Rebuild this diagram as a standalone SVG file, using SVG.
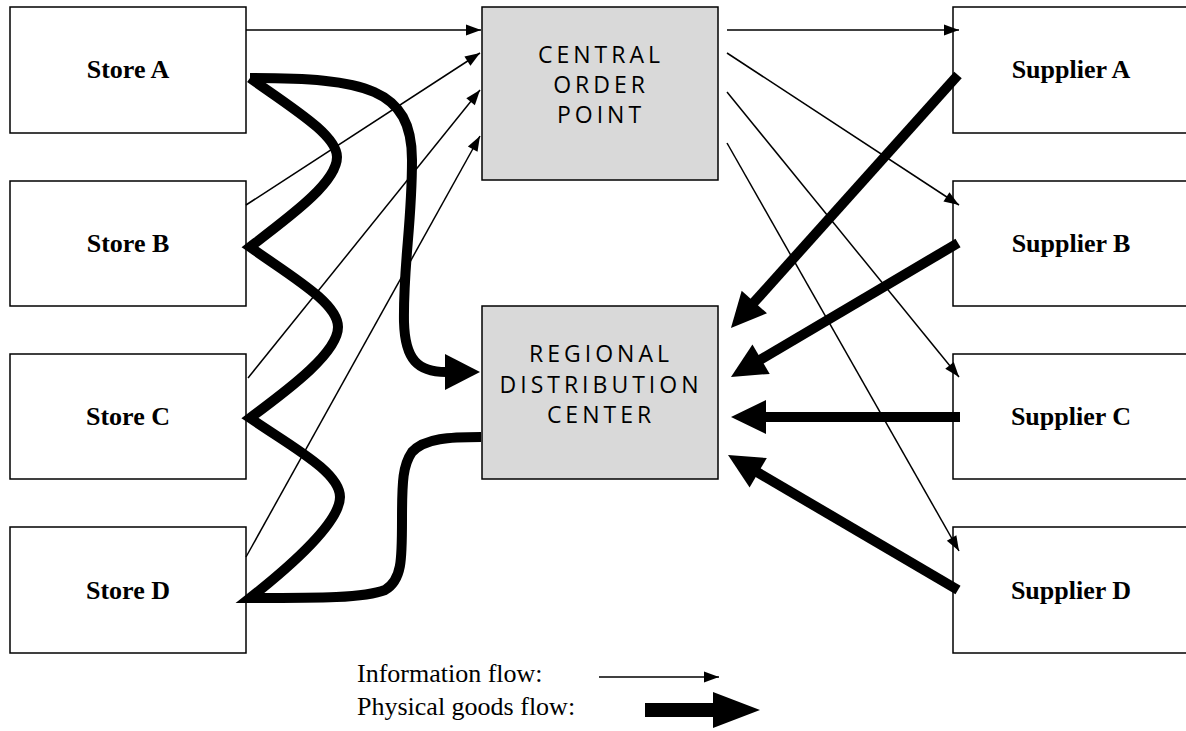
<svg xmlns="http://www.w3.org/2000/svg" width="1186" height="731" viewBox="0 0 1186 731">
<style>
.box{fill:#fff;stroke:#000;stroke-width:1.5}
.hub{fill:#d9d9d9;stroke:#000;stroke-width:1.5}
.lbl{font-family:"Liberation Serif","Times New Roman",serif;font-weight:bold;font-size:26px;text-anchor:middle;fill:#000}
.hubt{font-family:"Open Sans","Noto Sans",sans-serif;font-size:23px;letter-spacing:4px;text-anchor:middle;fill:#000}
.info{stroke:#000;stroke-width:1.5;fill:none;marker-end:url(#thin)}
.goods{stroke:#000;stroke-width:10;fill:none;marker-end:url(#thick)}
.curve{stroke:#000;stroke-width:10;fill:none;stroke-linejoin:miter}
.leg{font-family:"Liberation Serif","Times New Roman",serif;font-size:26px;fill:#000}
</style>
<defs>
<marker id="thin" markerUnits="userSpaceOnUse" markerWidth="16" markerHeight="12" refX="15" refY="5.5" orient="auto" overflow="visible">
<path d="M0,0 L15,5.5 L0,11 z" fill="#000"/>
</marker>
<marker id="thick" markerUnits="userSpaceOnUse" markerWidth="36" markerHeight="36" refX="5" refY="17" orient="auto" overflow="visible">
<path d="M0,0 L35,17 L0,34 z" fill="#000"/>
</marker>
</defs>
<rect width="1186" height="731" fill="#fff"/>

<g id="store-a"><rect class="box" x="10" y="7" width="236" height="126"/><text class="lbl" x="128" y="78">Store A</text></g>
<g id="store-b"><rect class="box" x="10" y="181" width="236" height="125"/><text class="lbl" x="128" y="252">Store B</text></g>
<g id="store-c"><rect class="box" x="10" y="354" width="236" height="125"/><text class="lbl" x="128" y="425">Store C</text></g>
<g id="store-d"><rect class="box" x="10" y="527" width="236" height="126"/><text class="lbl" x="128" y="599">Store D</text></g>

<g id="central-order-point"><rect class="hub" x="482" y="7" width="236" height="173"/>
<text class="hubt" x="601" y="63">CENTRAL</text>
<text class="hubt" x="601" y="93">ORDER</text>
<text class="hubt" x="601" y="123">POINT</text></g>
<g id="regional-distribution-center"><rect class="hub" x="482" y="306" width="236" height="173"/>
<text class="hubt" x="601" y="362">REGIONAL</text>
<text class="hubt" x="601" y="393">DISTRIBUTION</text>
<text class="hubt" x="601" y="423">CENTER</text></g>

<g id="supplier-a"><rect class="box" x="953" y="7" width="236" height="126"/><text class="lbl" x="1071" y="78">Supplier A</text></g>
<g id="supplier-b"><rect class="box" x="953" y="181" width="236" height="125"/><text class="lbl" x="1071" y="252">Supplier B</text></g>
<g id="supplier-c"><rect class="box" x="953" y="354" width="236" height="125"/><text class="lbl" x="1071" y="425">Supplier C</text></g>
<g id="supplier-d"><rect class="box" x="953" y="527" width="236" height="126"/><text class="lbl" x="1071" y="599">Supplier D</text></g>

<g id="connectors">
<line class="info" x1="246" y1="30" x2="481" y2="30"/>
<line class="info" x1="246" y1="205" x2="480" y2="53"/>
<line class="info" x1="248" y1="378" x2="480" y2="90"/>
<line class="info" x1="246" y1="557" x2="480" y2="136"/>
<line class="info" x1="727" y1="30" x2="959" y2="30"/>
<line class="info" x1="727" y1="53" x2="959" y2="205"/>
<line class="info" x1="727" y1="92" x2="959" y2="377"/>
<line class="info" x1="727" y1="143" x2="959" y2="551"/>

<line class="goods" x1="958" y1="75" x2="751" y2="305.7"/>
<line class="goods" x1="958" y1="243" x2="756.8" y2="361.8"/>
<line class="goods" x1="960" y1="417" x2="761" y2="417"/>
<line class="goods" x1="958" y1="590" x2="753.9" y2="470.2"/>

<path class="curve" d="M250,78 C365,78 412,88 412,160 C412,225 403,265 404,322 C405,360 418,372 446,372"/>
<path d="M445,354 L480,372 L445,390 z" fill="#000"/>
<path class="curve" d="M250,78 C292,108 337,135 337,157 C337,182 292,215 250,247 C292,277 338,303 338,327 C338,352 292,387 250,418 C292,447 340,472 340,497 C340,522 292,565 250,598 C320,598 365,598 385,590 C402,580 402,560 402,520 C402,480 403,465 412,452 C425,438 450,437 481,437"/>
</g>

<g id="legend">
<text class="leg" x="357" y="682">Information flow:</text>
<text class="leg" x="357" y="715">Physical goods flow:</text>
<line class="info" x1="599" y1="677" x2="719" y2="677"/>
<path d="M645,703 L713,703 L713,692 L760,710 L713,728 L713,717 L645,717 z" fill="#000"/>
</g>
</svg>
